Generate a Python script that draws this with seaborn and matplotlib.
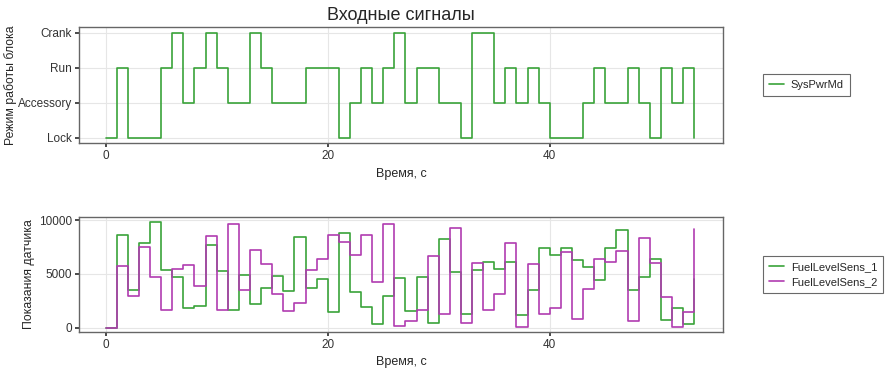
import numpy as np
import pandas as pd
import matplotlib
matplotlib.use("Agg")
import matplotlib.pyplot as plt
import seaborn as sns

# ---- data ----
time_s = list(range(0, 54))
mode_labels = ["Lock", "Accessory", "Run", "Crank"]
# 0=Lock, 1=Accessory, 2=Run, 3=Crank  (value held for [t, t+1))
sys_pwr_md = [0, 2, 0, 0, 0, 2, 3, 1, 2, 3,
              2, 1, 1, 3, 2, 1, 1, 1, 2, 2,
              2, 0, 1, 2, 1, 2, 3, 1, 2, 2,
              1, 1, 0, 3, 3, 1, 2, 1, 2, 1,
              0, 0, 0, 1, 2, 1, 1, 2, 1, 0,
              2, 1, 2, 0]
fuel_sens_1 = [0, 8600, 3500, 7900, 9800, 5400, 4700, 1800, 2000, 7700,
               5300, 1700, 4900, 2200, 3700, 4800, 3400, 8400, 3700, 4500,
               1500, 8800, 3300, 1900, 400, 3000, 4600, 1600, 4700, 500,
               8200, 5200, 1300, 5400, 6100, 5500, 6100, 1200, 3500, 7400,
               6800, 7400, 6300, 5600, 4400, 7400, 9100, 3500, 4700, 6400,
               700, 1800, 400, 4500]
fuel_sens_2 = [0, 5700, 3000, 7500, 4700, 1700, 5500, 5800, 3900, 8500,
               1700, 9600, 3500, 7200, 5900, 3100, 1600, 2300, 5400, 6400,
               8600, 8000, 6800, 8600, 4300, 9600, 200, 600, 1700, 6700,
               1300, 9300, 500, 6000, 1700, 3100, 7900, 100, 5900, 1300,
               1800, 7000, 800, 3600, 6400, 6100, 7100, 600, 8300, 6000,
               2900, 100, 1500, 9200]
series_names = ["FuelLevelSens_1", "FuelLevelSens_2"]

# ---- style ----
sns.set_theme(style="whitegrid")
plt.rcParams["font.family"] = ["Liberation Sans", "DejaVu Sans"]
plt.rcParams.update({
    "axes.edgecolor": "#666666",
    "axes.linewidth": 1.0,
    "grid.color": "#e6e6e6",
    "grid.linewidth": 0.8,
    "xtick.bottom": True,
    "ytick.left": True,
    "xtick.color": "#333333",
    "ytick.color": "#333333",
    "xtick.major.size": 3,
    "ytick.major.size": 3,
    "xtick.labelsize": 8.5,
    "ytick.labelsize": 8.5,
})

green = "#3aa33a"
purple = "#b03cb0"

W, H = 886, 374
fig = plt.figure(figsize=(W / 100, H / 100), dpi=100)
L, R = 79 / W, 723 / W
ax1 = fig.add_axes([L, 1 - 143.3 / H, R - L, (143.3 - 27.3) / H])
ax2 = fig.add_axes([L, 1 - 332 / H, R - L, (332 - 217) / H])

leg_kw = dict(loc="center left", bbox_to_anchor=(1.062, 0.5), fontsize=8,
              frameon=True, fancybox=False, edgecolor="#444444",
              handlelength=1.35, handletextpad=0.6, borderpad=0.55,
              labelspacing=0.45, borderaxespad=0)

df_top = pd.DataFrame({"t": time_s, "mode": sys_pwr_md})
sns.lineplot(data=df_top, x="t", y="mode", ax=ax1, color=green,
             linewidth=1.2, drawstyle="steps-post", label="SysPwrMd", legend=False)
ax1.set_yticks(range(len(mode_labels)))
ax1.set_yticklabels(mode_labels)
ax1.set_ylim(-0.16, 3.16)
ax1.set_xlim(-2.4, 55.6)
ax1.set_xticks([0, 20, 40])
ax1.set_xlabel("Время, с", fontsize=9)
ax1.set_ylabel("Режим работы блока", fontsize=8.8)
ax1.yaxis.set_label_coords(-0.096, 0.5)
ax1.set_title("Входные сигналы", fontsize=13, pad=5)
leg1 = ax1.legend(**leg_kw)
leg1.get_frame().set_linewidth(0.8)

df_bot = pd.DataFrame({
    "t": time_s * 2,
    "value": fuel_sens_1 + fuel_sens_2,
    "series": [series_names[0]] * len(time_s) + [series_names[1]] * len(time_s),
})
sns.lineplot(data=df_bot, x="t", y="value", hue="series", ax=ax2,
             palette=[green, purple], linewidth=1.2, drawstyle="steps-post",
             estimator=None)
ax2.set_ylim(-380, 10280)
ax2.set_yticks([0, 5000, 10000])
ax2.set_xlim(-2.4, 55.6)
ax2.set_xticks([0, 20, 40])
ax2.set_xlabel("Время, с", fontsize=9)
ax2.set_ylabel("Показания датчика", fontsize=8.8)
ax2.yaxis.set_label_coords(-0.068, 0.5)
ax2.get_legend().remove()
leg2 = ax2.legend(**leg_kw)
leg2.get_frame().set_linewidth(0.8)

for ax in (ax1, ax2):
    ax.tick_params(axis="both", pad=2)
    for s in ax.spines.values():
        s.set_visible(True)

fig.savefig("out.png", dpi=100)
